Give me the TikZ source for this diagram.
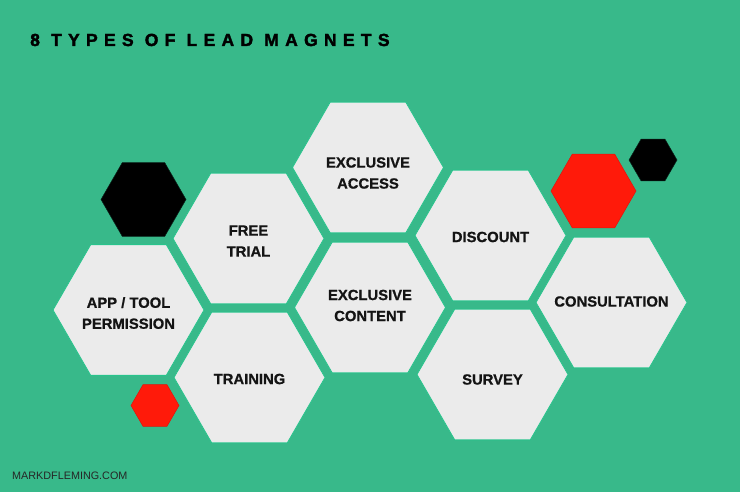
\documentclass[tikz,border=0pt]{standalone}
\usepackage{fontspec}
\setmainfont{Liberation Sans}
\newfontfamily\titlefont[LetterSpace=36,FakeBold=2]{Liberation Sans Bold}
\newfontfamily\lblfont[FakeBold=0.8]{Liberation Sans Bold}
\usetikzlibrary{shapes.geometric}
\definecolor{bggreen}{RGB}{56,185,138}
\definecolor{hexedge}{RGB}{40,196,140}
\definecolor{hexfill}{RGB}{235,235,235}
\definecolor{hexred}{RGB}{255,26,10}
\definecolor{hexreddark}{RGB}{225,20,10}
\tikzset{
  hexbase/.style={regular polygon, regular polygon sides=6, inner sep=0pt, outer sep=0pt},
  bighex/.style={hexbase, minimum size=151pt, fill=hexfill, draw=hexedge, line width=0.8pt},
  blackhex/.style={hexbase, fill=black, draw=black!80!bggreen, line width=0.5pt},
  redhex/.style={hexbase, fill=hexred, draw=hexreddark, line width=0.5pt},
  lbl/.style={font=\lblfont\fontsize{14.8}{21}\selectfont, align=center, text=black!92, inner sep=0pt},
}
\begin{document}
\begin{tikzpicture}[x=1pt,y=-1pt]
\useasboundingbox (0,0) rectangle (740,492);
\fill[bggreen] (0,0) rectangle (740,492);
\node[anchor=base west, inner sep=0pt, font=\titlefont\fontsize{17.5}{20}\selectfont] (title) at (30,46) {8 TYPES OF LEAD MAGNETS};
% decorative hexagons
\node[blackhex, minimum size=85pt] (bk1) at (143.5,199.5) {};
\node[redhex, minimum size=48pt] (rd1) at (155,405.5) {};
\node[redhex, minimum size=85pt] (rd2) at (593.5,191) {};
\node[blackhex, minimum size=48pt] (bk2) at (653,160) {};
% main hexagons
\node[bighex] (app) at (128.5,310) {};
\node[bighex] (free) at (248.5,238.5) {};
\node[bighex] (train) at (249.5,377.5) {};
\node[bighex] (exa) at (368,167.5) {};
\node[bighex] (exc) at (370,307.5) {};
\node[bighex] (disc) at (490.5,235.5) {};
\node[bighex] (surv) at (492.5,374.5) {};
\node[bighex] (cons) at (611.5,302.5) {};
% labels
\node[lbl] (tapp) at ([yshift=-3pt]app.center) {APP / TOOL\\PERMISSION};
\node[lbl] (tfree) at ([yshift=-2.5pt]free.center) {FREE\\TRIAL};
\node[lbl] (ttrain) at ([yshift=-1.5pt]train.center) {TRAINING};
\node[lbl] (texa) at ([yshift=-5.5pt]exa.center) {EXCLUSIVE\\ACCESS};
\node[lbl] (texc) at ([yshift=2pt]exc.center) {EXCLUSIVE\\CONTENT};
\node[lbl] (tdisc) at ([yshift=-1.5pt]disc.center) {DISCOUNT};
\node[lbl] (tsurv) at ([yshift=-5pt]surv.center) {SURVEY};
\node[lbl] (tcons) at ([yshift=1pt]cons.center) {CONSULTATION};
\node[anchor=base west, inner sep=0pt, font=\fontsize{10.8}{13}\selectfont, text=black!85] (foot) at (12,479) {MARKDFLEMING.COM};
\end{tikzpicture}
\end{document}
